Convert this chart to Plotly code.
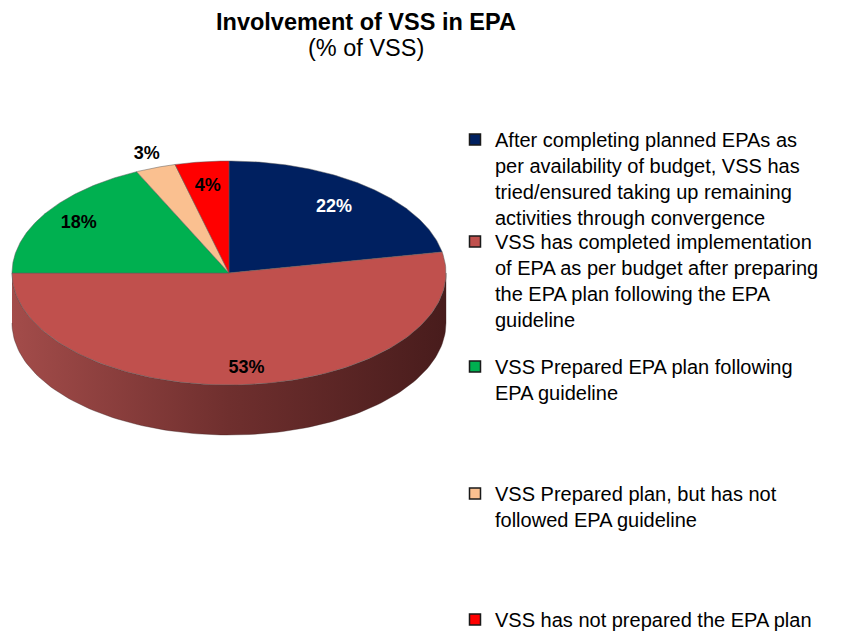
import numpy as np
import plotly.graph_objects as go

# ---------------- data ----------------
categories = [
    "After completing planned EPAs as<br>per availability of budget, VSS has<br>tried/ensured taking up remaining<br>activities through convergence",
    "VSS has completed implementation<br>of EPA as per budget after preparing<br>the EPA plan following the EPA<br>guideline",
    "VSS Prepared EPA plan following<br>EPA guideline",
    "VSS Prepared plan, but has not<br>followed EPA guideline",
    "VSS has not prepared the EPA plan",
]
values = [22, 53, 18, 3, 4]
title_main = "Involvement of VSS in EPA"
title_sub = "(% of VSS)"

# ---------------- styles ----------------
colors = ["#002060", "#C0504D", "#00B050", "#FAC090", "#FF0000"]
side_scales = [
    [[0, "#001A4D"], [1, "#000C26"]],
    [[0, "#A34C4A"], [0.5, "#6F2F2E"], [1, "#481C1C"]],
    [[0, "#008A3D"], [1, "#004A20"]],
    [[0, "#D9A070"], [1, "#8A6040"]],
    [[0, "#CC0000"], [1, "#660000"]],
]
label_colors = ["white", "black", "black", "black", "black"]
label_radius = [0.76, 0.86, 0.82, 1.12, 0.78]

W, H = 853, 635
OFF = 8  # page body margin offset


def fx(sx):
    return sx - OFF


def fy(sy):
    return H - (sy - OFF)


cx, cy = fx(229), fy(273)
rx, ry = 217, 112
depth = 50
FONT = "Liberation Sans, Arial, sans-serif"

fig = go.Figure()

total = float(sum(values))
angles = []
a = 90.0
for v in values:
    a1 = a - v / total * 360.0
    angles.append((a, a1))
    a = a1

# side walls (visible front half: sin < 0)
for i, (a0, a1) in enumerate(angles):
    for m in (-1, 0, 1):
        lo = max(a1, -180 + 360 * m)
        hi = min(a0, 0 + 360 * m)
        if hi - lo > 0.01:
            t = np.radians(np.linspace(lo, hi, 120))
            xt = cx + rx * np.cos(t)
            yt = cy + ry * np.sin(t)
            xs = np.concatenate([xt, xt[::-1]])
            ys = np.concatenate([yt, (yt - depth)[::-1]])
            fig.add_trace(go.Scatter(
                x=xs, y=ys, mode="lines", fill="toself",
                fillgradient=dict(type="horizontal", colorscale=side_scales[i]),
                line=dict(color="rgba(60,30,30,0.6)", width=0.6),
                showlegend=False, hoverinfo="skip"))

# top faces
for i, (a0, a1) in enumerate(angles):
    t = np.radians(np.linspace(a0, a1, 150))
    xs = np.concatenate([[cx], cx + rx * np.cos(t), [cx]])
    ys = np.concatenate([[cy], cy + ry * np.sin(t), [cy]])
    fig.add_trace(go.Scatter(
        x=xs, y=ys, mode="lines", fill="toself", fillcolor=colors[i],
        line=dict(color="rgba(90,90,90,0.7)", width=0.7),
        showlegend=False, hoverinfo="skip"))

# labels
lx, ly, lt = [], [], []
for i, (a0, a1) in enumerate(angles):
    mid = np.radians((a0 + a1) / 2)
    lx.append(cx + label_radius[i] * rx * np.cos(mid))
    ly.append(cy + label_radius[i] * ry * np.sin(mid))
    lt.append(f"<b>{values[i]}%</b>")
fig.add_trace(go.Scatter(
    x=lx, y=ly, mode="text", text=lt,
    textfont=dict(family=FONT, size=18, color=label_colors),
    showlegend=False, hoverinfo="skip"))

# legend entries (first-line centres in screen px)
legend_line_centres = [141, 243, 368, 495, 621]
layout_legends = {}
for i, name in enumerate(categories):
    key = "legend" if i == 0 else f"legend{i+1}"
    fig.add_trace(go.Scatter(
        x=[None], y=[None], mode="markers", name=name,
        marker=dict(symbol="square", size=11, color=colors[i],
                    line=dict(color="#1a1a1a", width=1.5)),
        legend=key, showlegend=True))
    top_fig = legend_line_centres[i] - OFF - 21
    layout_legends[key] = dict(
        x=fx(455) / W, y=1 - top_fig / H, xanchor="left", yanchor="top",
        xref="paper", yref="paper",
        font=dict(family=FONT, size=20, color="black"),
        bgcolor="rgba(0,0,0,0)", valign="top", itemwidth=30,
        itemclick=False, itemdoubleclick=False)

fig.update_layout(
    width=W, height=H,
    margin=dict(l=0, r=0, t=0, b=0, pad=0, autoexpand=False),
    paper_bgcolor="white", plot_bgcolor="white",
    xaxis=dict(range=[0, W], visible=False, fixedrange=True, domain=[0, 1]),
    yaxis=dict(range=[0, H], visible=False, fixedrange=True, domain=[0, 1]),
    hovermode=False,
    annotations=[
        dict(text=f"<b>{title_main}</b>", x=fx(366) / W, y=fy(22) / H,
             xref="paper", yref="paper", xanchor="center", yanchor="middle",
             showarrow=False, font=dict(family=FONT, size=23.5, color="black")),
        dict(text=title_sub, x=fx(366) / W, y=fy(48) / H,
             xref="paper", yref="paper", xanchor="center", yanchor="middle",
             showarrow=False, font=dict(family=FONT, size=23.5, color="black")),
    ],
    **layout_legends,
)

fig.write_html("out.html")
